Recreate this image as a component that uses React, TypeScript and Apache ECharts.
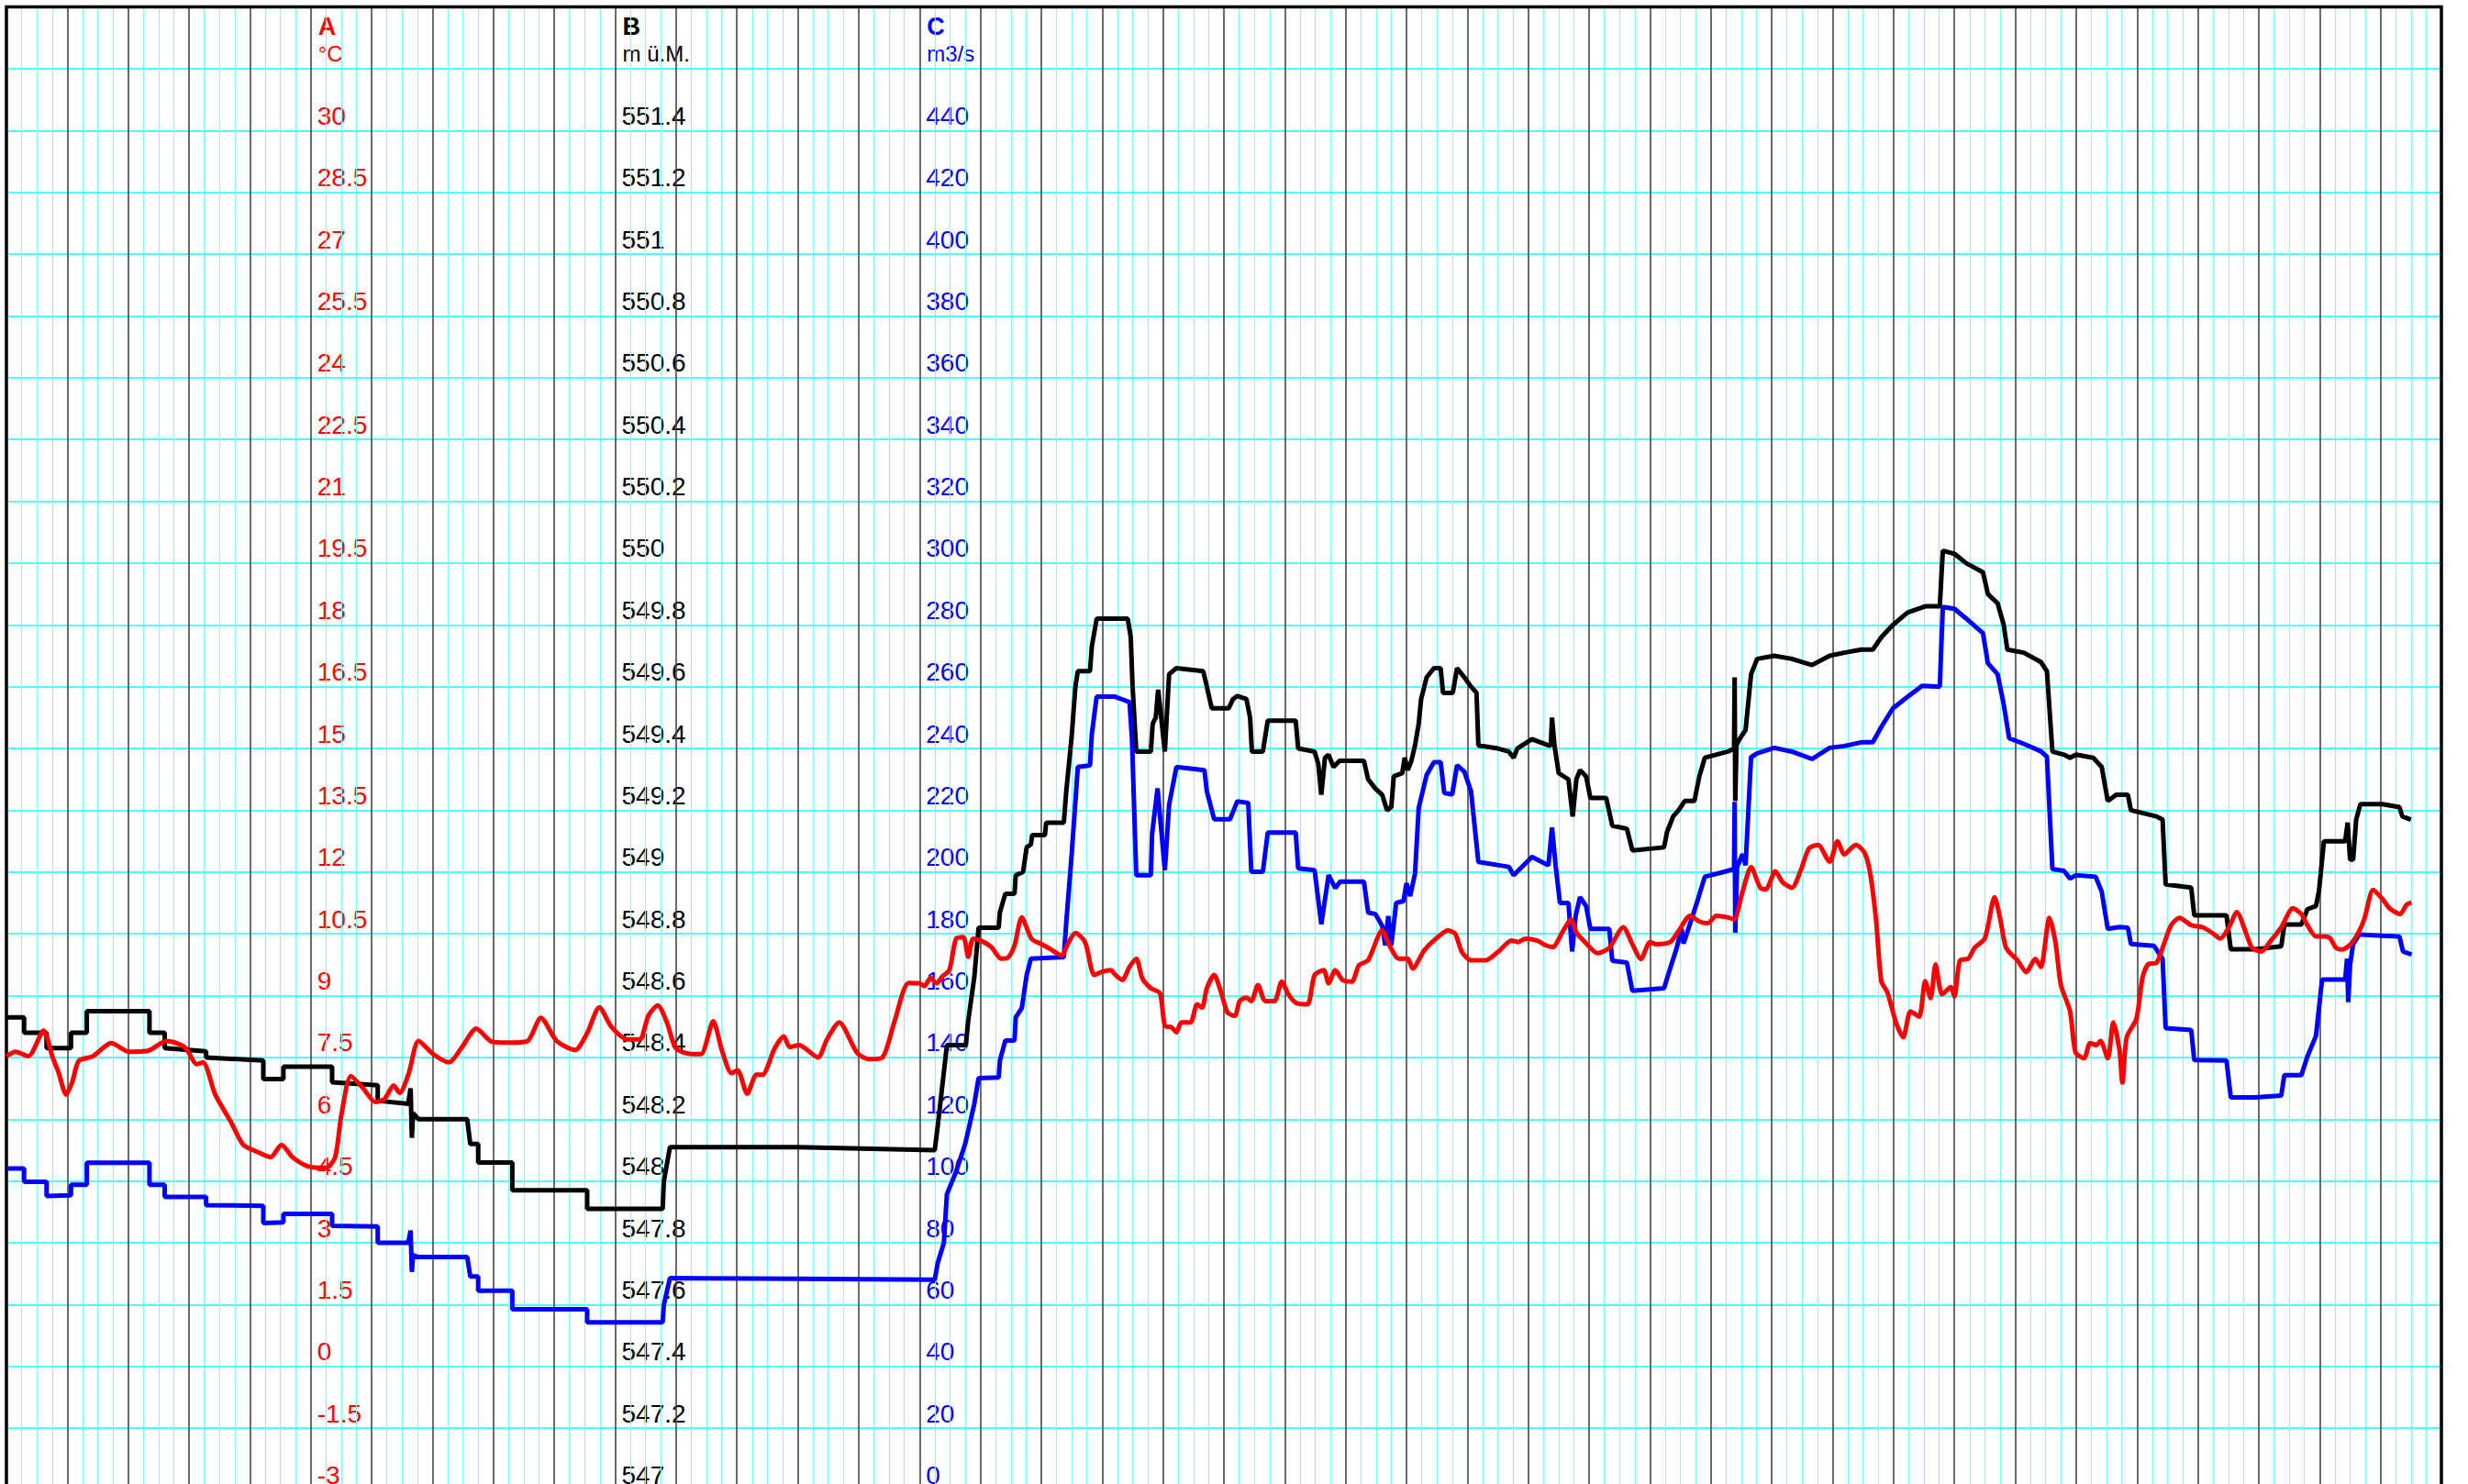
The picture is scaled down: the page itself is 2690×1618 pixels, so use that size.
import React, { useEffect, useRef } from "react";
import * as echarts from "echarts";

const FONT = '"Liberation Sans", Arial, Helvetica, sans-serif';

// x runs over 40 chart divisions (no x labels on the chart)
const xDivisions = [0, 40];

// Axis A (°C), B (m ü.M.), C (m3/s): [min, max, step, highest labelled value]
const axisA = [-3, 33, 1.5, 30];
const axisB = [547, 551.8, 0.2, 551.4];
const axisC = [0, 480, 20, 440];

// B – water level (black)
const levelData: number[][] = [
  [0, 548.53], [0.29, 548.53], [0.29, 548.48], [0.66, 548.48], [0.66, 548.43], [1.06, 548.43], [1.06, 548.48], [1.32, 548.48], [1.32, 548.55], [2.35, 548.55], [2.35, 548.48], [2.6, 548.48], [2.6, 548.43], [3.28, 548.42], [3.28, 548.4], [4.22, 548.39], [4.22, 548.33], [4.55, 548.33], [4.55, 548.37], [5.35, 548.37], [5.35, 548.32], [6.1, 548.31], [6.1, 548.26], [6.6, 548.25], [6.64, 548.3], [6.66, 548.14], [6.68, 548.22], [6.77, 548.2], [7.57, 548.2], [7.62, 548.12], [7.75, 548.12], [7.75, 548.06], [8.31, 548.06], [8.31, 547.97], [9.54, 547.97], [9.54, 547.91], [10.78, 547.91], [10.8, 548.0], [10.9, 548.11], [13.0, 548.11], [15.25, 548.1], [15.3, 548.18], [15.45, 548.44], [15.76, 548.44], [15.8, 548.52], [15.9, 548.66], [15.97, 548.82], [16.3, 548.82], [16.32, 548.87], [16.41, 548.93], [16.56, 548.93], [16.58, 548.99], [16.7, 549.0], [16.76, 549.08], [16.83, 549.09], [16.85, 549.12], [17.06, 549.12], [17.08, 549.16], [17.37, 549.16], [17.41, 549.26], [17.5, 549.44], [17.56, 549.6], [17.6, 549.65], [17.8, 549.65], [17.83, 549.73], [17.91, 549.82], [18.42, 549.82], [18.47, 549.76], [18.5, 549.6], [18.56, 549.39], [18.8, 549.39], [18.83, 549.48], [18.88, 549.5], [18.92, 549.59], [18.97, 549.5], [19.03, 549.39], [19.06, 549.5], [19.1, 549.64], [19.22, 549.66], [19.66, 549.65], [19.72, 549.6], [19.8, 549.53], [20.08, 549.53], [20.15, 549.56], [20.22, 549.57], [20.37, 549.56], [20.43, 549.5], [20.46, 549.39], [20.64, 549.39], [20.72, 549.49], [21.18, 549.49], [21.22, 549.4], [21.49, 549.39], [21.55, 549.35], [21.6, 549.25], [21.66, 549.37], [21.72, 549.38], [21.8, 549.34], [21.9, 549.36], [22.3, 549.36], [22.37, 549.3], [22.49, 549.27], [22.6, 549.25], [22.68, 549.2], [22.75, 549.21], [22.79, 549.31], [22.93, 549.32], [22.97, 549.37], [23.02, 549.33], [23.08, 549.36], [23.14, 549.41], [23.2, 549.48], [23.24, 549.56], [23.33, 549.63], [23.45, 549.66], [23.56, 549.66], [23.6, 549.58], [23.76, 549.58], [23.83, 549.66], [23.95, 549.63], [24.06, 549.6], [24.15, 549.58], [24.18, 549.41], [24.5, 549.4], [24.68, 549.39], [24.76, 549.37], [24.82, 549.4], [25.06, 549.43], [25.33, 549.41], [25.37, 549.41], [25.39, 549.5], [25.43, 549.41], [25.5, 549.32], [25.66, 549.3], [25.73, 549.18], [25.79, 549.3], [25.85, 549.33], [25.95, 549.31], [26.02, 549.24], [26.28, 549.24], [26.38, 549.15], [26.62, 549.14], [26.71, 549.07], [27.23, 549.08], [27.28, 549.13], [27.38, 549.18], [27.47, 549.2], [27.57, 549.23], [27.73, 549.23], [27.81, 549.31], [27.9, 549.37], [28.28, 549.39], [28.38, 549.4], [28.39, 549.63], [28.4, 549.23], [28.42, 549.41], [28.47, 549.43], [28.57, 549.46], [28.66, 549.64], [28.76, 549.69], [29.04, 549.7], [29.33, 549.69], [29.66, 549.67], [29.95, 549.7], [30.19, 549.71], [30.47, 549.72], [30.66, 549.72], [30.8, 549.76], [30.99, 549.8], [31.23, 549.84], [31.52, 549.86], [31.76, 549.86], [31.81, 550.04], [32.0, 550.03], [32.19, 550.0], [32.47, 549.97], [32.55, 549.9], [32.71, 549.87], [32.81, 549.8], [32.87, 549.72], [33.14, 549.71], [33.42, 549.68], [33.52, 549.65], [33.61, 549.39], [33.8, 549.38], [33.9, 549.37], [34.0, 549.38], [34.28, 549.37], [34.42, 549.34], [34.52, 549.23], [34.66, 549.25], [34.85, 549.25], [34.9, 549.2], [35.32, 549.18], [35.42, 549.17], [35.47, 548.96], [35.89, 548.95], [35.94, 548.86], [36.47, 548.86], [36.54, 548.75], [36.94, 548.75], [37.37, 548.76], [37.42, 548.83], [37.7, 548.83], [37.8, 548.88], [37.94, 548.89], [37.99, 548.94], [38.07, 549.1], [38.42, 549.1], [38.46, 549.16], [38.5, 549.04], [38.55, 549.04], [38.6, 549.17], [38.67, 549.22], [39.03, 549.22], [39.31, 549.21], [39.36, 549.18], [39.5, 549.17],
];

// C – discharge (blue)
const flowData: number[][] = [
  [0, 104.1], [0.29, 104.1], [0.29, 99.8], [0.66, 99.8], [0.66, 95.2], [1.06, 95.4], [1.06, 98.8], [1.32, 98.8], [1.32, 105.9], [2.35, 105.9], [2.35, 98.8], [2.6, 98.8], [2.6, 94.9], [3.28, 94.9], [3.28, 92.2], [4.22, 92.0], [4.22, 86.4], [4.55, 86.6], [4.55, 89.4], [5.35, 89.4], [5.35, 85.5], [6.1, 85.3], [6.1, 80.0], [6.6, 80.0], [6.64, 84], [6.66, 70.6], [6.68, 76], [6.77, 75.4], [7.57, 75.4], [7.62, 69.1], [7.75, 69.1], [7.75, 64.5], [8.31, 64.5], [8.31, 58.5], [9.54, 58.5], [9.54, 54.3], [10.78, 54.3], [10.8, 60], [10.9, 68.6], [13.0, 68.4], [15.25, 68.1], [15.3, 73.6], [15.4, 80], [15.45, 95.8], [15.6, 103], [15.75, 112], [15.9, 125], [15.97, 133.3], [16.3, 133.5], [16.32, 139], [16.41, 145.5], [16.56, 145.5], [16.58, 153], [16.68, 156], [16.76, 166.7], [16.83, 172], [17.37, 172.5], [17.41, 183.6], [17.5, 205.9], [17.6, 234], [17.8, 234.5], [17.83, 244.6], [17.91, 256.8], [18.2, 256.8], [18.45, 255], [18.49, 243], [18.56, 199], [18.8, 199], [18.82, 212.3], [18.91, 227.1], [19.03, 200.6], [19.1, 221.8], [19.22, 234], [19.68, 233], [19.72, 226.1], [19.84, 217.1], [20.1, 217.1], [20.22, 222.9], [20.4, 222.4], [20.45, 200.1], [20.64, 200.1], [20.72, 212.8], [21.18, 212.8], [21.22, 201.2], [21.49, 200.6], [21.6, 183.1], [21.72, 199], [21.83, 194.8], [21.91, 196.9], [22.3, 196.9], [22.37, 186.9], [22.49, 186.4], [22.6, 182.6], [22.65, 176.3], [22.7, 185.8], [22.75, 176.3], [22.83, 190], [22.95, 190.6], [23.0, 196.4], [23.06, 192.2], [23.14, 199.6], [23.2, 220.8], [23.33, 231.4], [23.45, 235.6], [23.56, 235.6], [23.62, 225.6], [23.75, 225.1], [23.83, 234.6], [23.95, 232.5], [24.06, 226.1], [24.18, 203.3], [24.68, 201.7], [24.76, 199], [25.06, 204.9], [25.33, 202.2], [25.39, 214.4], [25.45, 202], [25.52, 190], [25.66, 190], [25.72, 174.3], [25.78, 186], [25.85, 191.9], [25.95, 189], [26.02, 181.6], [26.33, 181.6], [26.38, 171.3], [26.62, 170.7], [26.71, 161.6], [27.23, 162.4], [27.33, 168.8], [27.43, 174.9], [27.52, 181.6], [27.55, 176.9], [27.6, 179.8], [27.76, 189.5], [27.9, 198.5], [28.28, 200.4], [28.38, 201], [28.39, 222.7], [28.4, 180.4], [28.43, 201.6], [28.52, 205.8], [28.57, 202.2], [28.66, 237.2], [28.76, 238.4], [29.04, 240.2], [29.33, 239], [29.66, 236.6], [29.95, 240.2], [30.19, 240.8], [30.47, 242], [30.66, 242], [30.8, 247], [30.99, 253], [31.23, 256.7], [31.47, 260.3], [31.76, 260], [31.81, 285.8], [32.0, 285.2], [32.19, 282.1], [32.47, 277.3], [32.55, 267.6], [32.71, 264], [32.81, 254.3], [32.9, 243.3], [33.14, 241.5], [33.42, 239.1], [33.52, 237.3], [33.61, 201], [33.8, 200.4], [33.9, 197.9], [34.0, 199], [34.32, 198.5], [34.42, 193.7], [34.52, 181.6], [34.71, 182.2], [34.85, 182], [34.9, 176.7], [35.28, 176.1], [35.42, 171.9], [35.47, 149.5], [35.89, 148.9], [35.94, 139.2], [36.47, 139], [36.54, 127.1], [36.94, 127.1], [37.37, 127.7], [37.42, 134.3], [37.7, 134.3], [37.8, 140.4], [37.94, 147], [38.04, 165.2], [38.42, 165.2], [38.45, 172], [38.47, 157.9], [38.5, 170], [38.55, 176.7], [38.65, 179.8], [39.03, 179.4], [39.31, 179.2], [39.37, 174.3], [39.51, 173.3],
];

// A – water temperature (red)
const tempData: number[][] = [
  [0, 7.53], [0.15, 7.64], [0.36, 7.53], [0.61, 8.15], [0.76, 7.5], [0.86, 7.12], [0.98, 6.6], [1.08, 6.9], [1.19, 7.42], [1.42, 7.53], [1.72, 7.85], [2.02, 7.64], [2.32, 7.66], [2.63, 7.9], [2.93, 7.75], [3.13, 7.34], [3.23, 7.38], [3.43, 6.6], [3.69, 5.93], [3.89, 5.38], [4.09, 5.23], [4.34, 5.08], [4.52, 5.38], [4.7, 5.08], [4.95, 4.86], [5.25, 4.82], [5.4, 5.08], [5.5, 6.08], [5.66, 7.05], [5.86, 6.75], [6.06, 6.42], [6.21, 6.49], [6.36, 6.82], [6.46, 6.64], [6.61, 7.12], [6.77, 7.9], [7.02, 7.57], [7.27, 7.38], [7.47, 7.72], [7.72, 8.2], [7.98, 7.88], [8.28, 7.86], [8.56, 7.9], [8.78, 8.46], [9.04, 7.9], [9.34, 7.68], [9.54, 8.09], [9.74, 8.72], [9.94, 8.24], [10.2, 7.94], [10.4, 7.94], [10.55, 8.53], [10.7, 8.76], [10.85, 8.35], [11.0, 7.72], [11.26, 7.58], [11.41, 7.58], [11.61, 8.38], [11.76, 7.64], [11.91, 7.12], [12.01, 7.19], [12.17, 6.62], [12.32, 7.08], [12.42, 7.08], [12.62, 7.72], [12.77, 8.01], [12.87, 7.75], [13.02, 7.8], [13.33, 7.5], [13.48, 7.94], [13.68, 8.35], [13.98, 7.6], [14.18, 7.46], [14.39, 7.5], [14.59, 8.38], [14.82, 9.31], [15.0, 9.3], [15.08, 9.23], [15.18, 9.43], [15.28, 9.3], [15.37, 9.46], [15.49, 9.62], [15.6, 10.38], [15.72, 10.42], [15.8, 9.94], [15.88, 10.38], [16.0, 10.34], [16.18, 10.18], [16.34, 9.9], [16.45, 9.92], [16.56, 10.22], [16.68, 10.9], [16.84, 10.38], [16.99, 10.26], [17.14, 10.14], [17.33, 9.98], [17.45, 10.3], [17.56, 10.52], [17.72, 10.3], [17.82, 9.66], [17.87, 9.5], [17.99, 9.58], [18.14, 9.62], [18.22, 9.5], [18.33, 9.38], [18.45, 9.7], [18.56, 9.9], [18.66, 9.42], [18.8, 9.18], [18.95, 9.06], [19.03, 8.27], [19.14, 8.23], [19.22, 8.11], [19.3, 8.35], [19.45, 8.35], [19.56, 8.79], [19.64, 8.71], [19.72, 9.18], [19.84, 9.5], [19.95, 9.1], [20.06, 8.59], [20.18, 8.51], [20.26, 8.87], [20.37, 8.95], [20.45, 8.87], [20.56, 9.26], [20.68, 8.87], [20.83, 8.87], [20.95, 9.34], [21.06, 9.03], [21.18, 8.83], [21.37, 8.79], [21.49, 9.5], [21.64, 9.62], [21.72, 9.3], [21.83, 9.62], [21.95, 9.38], [22.1, 9.34], [22.22, 9.74], [22.37, 9.86], [22.6, 10.58], [22.72, 10.22], [22.87, 9.9], [23.02, 9.9], [23.1, 9.66], [23.29, 10.1], [23.45, 10.34], [23.68, 10.58], [23.8, 10.5], [23.91, 10.06], [24.06, 9.86], [24.3, 9.86], [24.53, 10.1], [24.72, 10.34], [24.83, 10.3], [24.95, 10.38], [25.14, 10.34], [25.29, 10.22], [25.4, 10.18], [25.56, 10.54], [25.7, 10.85], [25.79, 10.54], [25.9, 10.35], [26.14, 10.03], [26.33, 10.16], [26.56, 10.66], [26.71, 10.25], [26.85, 9.89], [27.0, 10.3], [27.1, 10.25], [27.33, 10.3], [27.47, 10.57], [27.66, 10.94], [27.81, 10.8], [27.95, 10.76], [28.09, 10.94], [28.28, 10.9], [28.38, 10.85], [28.52, 11.53], [28.66, 12.12], [28.81, 11.62], [28.9, 11.58], [29.06, 12.02], [29.18, 11.75], [29.33, 11.62], [29.47, 12.02], [29.61, 12.57], [29.76, 12.66], [29.95, 12.25], [30.08, 12.75], [30.19, 12.43], [30.38, 12.66], [30.52, 12.48], [30.61, 12.02], [30.71, 10.89], [30.8, 9.35], [30.9, 9.08], [31.04, 8.35], [31.16, 7.99], [31.28, 8.62], [31.42, 8.49], [31.52, 9.35], [31.61, 8.94], [31.69, 9.76], [31.8, 9.03], [31.94, 9.21], [32.0, 8.98], [32.09, 9.85], [32.23, 9.9], [32.33, 10.16], [32.5, 10.39], [32.66, 11.39], [32.75, 10.89], [32.85, 10.16], [33.04, 9.85], [33.18, 9.57], [33.33, 9.89], [33.42, 9.7], [33.56, 10.89], [33.66, 10.3], [33.75, 9.26], [33.9, 8.62], [33.99, 7.62], [34.13, 7.48], [34.23, 7.85], [34.33, 7.8], [34.4, 7.9], [34.52, 7.48], [34.61, 8.35], [34.71, 7.7], [34.76, 6.89], [34.83, 7.99], [34.99, 8.44], [35.09, 9.44], [35.18, 9.76], [35.32, 9.8], [35.42, 10.16], [35.56, 10.71], [35.7, 10.89], [35.89, 10.71], [36.08, 10.66], [36.23, 10.53], [36.37, 10.39], [36.51, 10.66], [36.64, 11.03], [36.8, 10.48], [36.89, 10.16], [37.04, 10.07], [37.18, 10.3], [37.37, 10.66], [37.56, 11.12], [37.7, 10.98], [37.8, 10.71], [37.94, 10.44], [38.08, 10.44], [38.17, 10.4], [38.27, 10.16], [38.37, 10.12], [38.51, 10.25], [38.65, 10.57], [38.74, 10.89], [38.88, 11.57], [39.03, 11.35], [39.15, 11.12], [39.32, 10.98], [39.43, 11.21], [39.51, 11.26],
];

const RED = "#ff0000";
const BLUE = "#0000ff";
const BLACK = "#000000";

function makeYAxis(
  range: number[],
  color: string,
  letter: string,
  unit: string,
  offset: number,
  withSplit: boolean
) {
  const [min, max, step, lastLabel] = range;
  return {
    type: "value",
    position: "left",
    min,
    max,
    interval: step,
    offset,
    z: 0,
    name: "{t|" + letter + "}\n{u|" + unit + "}",
    nameLocation: "end",
    nameGap: -6.4,
    nameTextStyle: {
      align: "left",
      verticalAlign: "top",
      padding: [0, 0, 0, 8],
      rich: {
        t: { fontFamily: FONT, fontSize: 27, fontWeight: "bold", color, lineHeight: 30 },
        u: { fontFamily: FONT, fontSize: 24, color, lineHeight: 30 },
      },
    },
    axisLine: { show: false, onZero: false },
    axisTick: { show: false },
    axisLabel: {
      show: true,
      inside: true,
      margin: 7,
      color,
      fontFamily: FONT,
      fontSize: 28,
      lineHeight: 32,
      verticalAlign: "bottom",
      align: "left",
      showMinLabel: true,
      showMaxLabel: true,
      formatter: (v: number) => (v > lastLabel + step / 10 ? "" : String(+v.toFixed(2))),
    },
    splitLine: withSplit
      ? { show: true, lineStyle: { color: "#4dffff", width: 2 } }
      : { show: false },
  };
}

export default function App() {
  const ref = useRef<HTMLDivElement>(null);

  useEffect(() => {
    if (!ref.current) return;
    const chart = echarts.init(ref.current, undefined, { renderer: "svg" });
    const gridLeft = 7;
    const gridWidth = 2654;
    const unit = gridWidth / (xDivisions[1] - xDivisions[0]);
    chart.setOption({
      animation: false,
      backgroundColor: "#ffffff",
      textStyle: { fontFamily: FONT },
      grid: {
        left: gridLeft,
        top: 7.5,
        width: gridWidth,
        height: 24 * 67.38,
        show: true,
        z: 1.5,
        borderColor: "#000000",
        borderWidth: 3.5,
        backgroundColor: "transparent",
      },
      xAxis: {
        type: "value",
        min: xDivisions[0],
        max: xDivisions[1],
        interval: 1,
        z: 1,
        axisLine: { show: false, onZero: false },
        axisTick: { show: false },
        axisLabel: { show: false },
        splitLine: { show: true, lineStyle: { color: "#474747", width: 1.6 } },
        minorTick: { show: false, splitNumber: 4 },
        minorSplitLine: { show: true, lineStyle: { color: "#80ffff", width: 1.2 } },
      },
      yAxis: [
        makeYAxis(axisA, RED, "A", "°C", -5 * unit, true),
        makeYAxis(axisB, BLACK, "B", "m ü.M.", -10 * unit, false),
        makeYAxis(axisC, BLUE, "C", "m3/s", -15 * unit, false),
      ],
      series: [
        {
          name: "B",
          type: "line",
          yAxisIndex: 1,
          data: levelData,
          showSymbol: false,
          symbol: "none",
          lineStyle: { color: BLACK, width: 5 },
          z: 3,
        },
        {
          name: "C",
          type: "line",
          yAxisIndex: 2,
          data: flowData,
          showSymbol: false,
          symbol: "none",
          lineStyle: { color: BLUE, width: 5 },
          z: 4,
        },
        {
          name: "A",
          type: "line",
          yAxisIndex: 0,
          data: tempData,
          showSymbol: false,
          symbol: "none",
          smooth: 0.25,
          lineStyle: { color: RED, width: 5 },
          z: 5,
        },
      ],
    });
    return () => chart.dispose();
  }, []);

  return (
    <div
      ref={ref}
      style={{ position: "fixed", left: 0, top: 0, width: 2690, height: 1650, background: "#fff" }}
    />
  );
}
